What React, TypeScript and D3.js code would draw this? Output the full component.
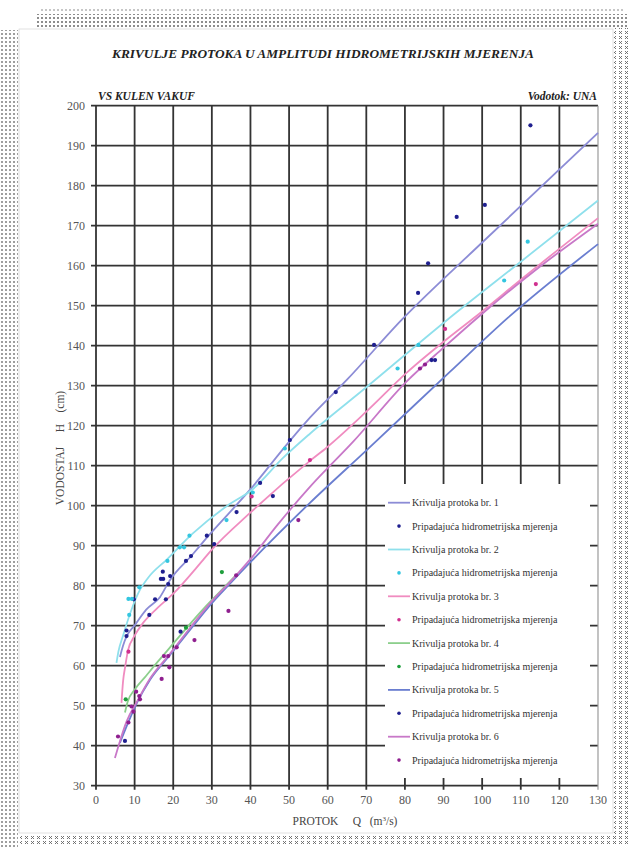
import React from "react";
import * as d3 from "d3";

// rating curves Q (m3/s) -> H (cm)
const curve1: [number, number][] = [
  [6.2, 62.2], [7, 65], [8, 67.5], [10.1, 70.2], [13, 74], [16.6, 77.2], [19, 81.2],
  [25, 87.8], [28.7, 92], [39.9, 104], [50.2, 116.2], [55.4, 122], [65, 131.5],
  [79.2, 146.5], [100, 165.8], [130, 193.2],
];
const curve2: [number, number][] = [
  [5.3, 60.7], [5.8, 63.5], [7, 67.5], [9, 73.5], [11.4, 79], [13.5, 82], [18.4, 86.6],
  [25, 93], [34, 100], [40.4, 104], [48.5, 112], [55.4, 118], [70, 129.6], [91, 146.5],
  [110, 161], [130, 176.3],
];
const curve3: [number, number][] = [
  [6.6, 50.7], [7, 56], [7.6, 60], [8.3, 63.9], [10, 67.5], [12.2, 70.7], [16, 74.5],
  [20, 78], [27.7, 86.4], [30, 89], [39.9, 98.2], [55.4, 111.2], [59.7, 114.5],
  [70, 123.5], [80.4, 133.2], [91.7, 142.3], [98.6, 147.5], [110, 156.5], [130, 171.9],
];
const curve4: [number, number][] = [
  [7.5, 48.3], [8.2, 51], [10, 54], [13, 57.5], [16, 61], [20, 65.5], [23.6, 69.6],
  [28, 74.4], [32, 78.4], [36, 82.4],
];
const curve5: [number, number][] = [
  [6.2, 40.7], [8, 45], [10.6, 50.7], [14, 56.5], [19, 62.5], [24.8, 69.5], [29.9, 75.5],
  [34.7, 80.5], [40.3, 86.2], [55.4, 100.7], [70.1, 113.9], [91.7, 133.5], [106.7, 147],
  [130, 165.4],
];
const curve6: [number, number][] = [
  [4.9, 36.9], [6, 40.5], [7.9, 46], [10.6, 51], [14, 56.8], [19, 62.8], [24.8, 70],
  [29.9, 76], [35, 81.2], [40.3, 87], [47, 95.2], [55.4, 104.7], [66.6, 116], [80.4, 131],
  [90, 139.5], [100, 148], [115, 159.8], [130, 170.5],
];

// measured points
const points1: [number, number][] = [
  [7.9, 68.8], [7.9, 67.4], [9.8, 76.6], [13.8, 72.7], [15.3, 76.6], [17.3, 83.5],
  [17.4, 81.7], [16.8, 81.7], [19.2, 82.4], [18.7, 80.4], [18.1, 76.6], [23.3, 86.2],
  [24.6, 87.4], [28.7, 92.5], [30.6, 90.4], [36.4, 98.4], [42.5, 105.7], [45.8, 102.4],
  [50.2, 116.4], [62.1, 128.4], [72, 140.2], [83.4, 153.2], [86, 160.6], [93.4, 172.2],
  [100.7, 175.2], [112.5, 195.1],
];
const points2: [number, number][] = [
  [8.6, 72.7], [8.4, 76.7], [9.3, 76.7], [11.2, 79.6], [18.5, 86.2], [21.7, 89.6],
  [22.8, 89.6], [24.2, 92.5], [33.8, 96.4], [40.6, 103.3], [48.9, 114.3], [78.1, 134.3],
  [83.5, 140.2], [105.7, 156.3], [111.8, 166],
];
const points3: [number, number][] = [
  [8.4, 63.5], [40.3, 102.3], [55.4, 111.4], [90.4, 144.2], [113.9, 155.4],
];
const points4: [number, number][] = [[7.7, 51.6], [23.3, 69.5], [32.6, 83.4]];
const points5: [number, number][] = [
  [7.5, 41.2], [21.9, 68.5], [86.9, 136.4], [87.8, 136.4],
];
const points6: [number, number][] = [
  [5.7, 42.3], [8.4, 45.8], [9.2, 49.8], [9.7, 48.5], [10.4, 53.5], [11.2, 52.4],
  [11.4, 51.6], [17, 56.7], [17.6, 62.4], [18.7, 62.4], [19, 59.6], [20.9, 64.6],
  [25.5, 66.4], [34.3, 73.7], [36.3, 82.6], [52.4, 96.4], [83.9, 134.3], [85.2, 135.3],
];

const xTicks = d3.range(0, 131, 10);
const yTicks = d3.range(30, 201, 10);

const curveLabels = [
  "Krivulja protoka br. 1",
  "Krivulja protoka br. 2",
  "Krivulja protoka br. 3",
  "Krivulja protoka br. 4",
  "Krivulja protoka br. 5",
  "Krivulja protoka br. 6",
];
const pointsLabel = "Pripadajuća hidrometrijska mjerenja";

const lineColors = ["#8c8cd6", "#8fe0ec", "#f08cc0", "#8ccf8c", "#6a7ed0", "#c878c8"];
const dotColors = ["#1f1f8f", "#33c6e0", "#d0308f", "#1e9e3c", "#1f1f8f", "#8f1f8f"];

const curves = [curve1, curve2, curve3, curve4, curve5, curve6];
const pointSets = [points1, points2, points3, points4, points5, points6];

const W = 638;
const H = 849;

export default function App() {
  const x = d3.scaleLinear().domain([0, 130]).range([96, 598]);
  const y = d3.scaleLinear().domain([30, 200]).range([785.7, 105.7]);

  const line = d3
    .line<[number, number]>()
    .x((d) => x(d[0]))
    .y((d) => y(d[1]))
    .curve(d3.curveMonotoneX);

  const legend = { x: 385, y: 484, w: 205, h: 294 };
  const rowY = (i: number) => 502.7 + i * 23.4;

  return (
    <svg
      width={W}
      height={H}
      style={{
        position: "absolute",
        left: 0,
        top: 0,
        background: "#fff",
        fontFamily: "Liberation Serif, DejaVu Serif, serif",
      }}
    >
      <defs>
        <pattern id="dots" width="4" height="4" patternUnits="userSpaceOnUse">
          <circle cx="2" cy="2" r="1" fill="#666" />
        </pattern>
        <pattern id="xs" width="6" height="5" patternUnits="userSpaceOnUse">
          <path d="M1,1 L4,4 M4,1 L1,4" stroke="#666" strokeWidth="0.9" />
        </pattern>
      </defs>

      {/* page frame */}
      <rect x={40} y={8} width={585} height={4} fill="url(#dots)" opacity={0.5} />
      <rect x={36} y={14} width={592} height={15} fill="url(#dots)" />
      <rect x={0} y={30} width={18} height={819} fill="url(#dots)" opacity={0.85} />
      <rect x={614} y={28} width={16} height={816} fill="url(#xs)" />
      <rect x={20} y={834} width={596} height={10} fill="url(#xs)" />
      <rect x={19} y={29} width={594} height={804} fill="#fff" stroke="#ccc" strokeWidth={0.6} />

      {/* titles */}
      <text
        x={323}
        y={58}
        textAnchor="middle"
        fontSize={13}
        fontWeight="bold"
        fontStyle="italic"
        fill="#222"
        textLength={422}
        lengthAdjust="spacingAndGlyphs"
      >
        KRIVULJE PROTOKA U AMPLITUDI HIDROMETRIJSKIH MJERENJA
      </text>
      <text x={98} y={100} fontSize={11.5} fontWeight="bold" fontStyle="italic" fill="#222">
        VS KULEN VAKUF
      </text>
      <text
        x={597}
        y={100}
        textAnchor="end"
        fontSize={11.5}
        fontWeight="bold"
        fontStyle="italic"
        fill="#222"
      >
        Vodotok: UNA
      </text>

      {/* grid */}
      {yTicks.map((t) => (
        <line
          key={"h" + t}
          x1={x(0) - 5}
          x2={x(130)}
          y1={y(t)}
          y2={y(t)}
          stroke="#333"
          strokeWidth={1.8}
        />
      ))}
      {xTicks.map((t) => (
        <line
          key={"v" + t}
          x1={x(t)}
          x2={x(t)}
          y1={y(200)}
          y2={y(30) + 4}
          stroke={t === 130 ? "#9a9a9a" : "#333"}
          strokeWidth={t === 130 ? 1.2 : 1.8}
        />
      ))}

      {/* tick labels */}
      {yTicks.map((t) => (
        <text key={"yl" + t} x={85} y={y(t) + 4} textAnchor="end" fontSize={12} fill="#555">
          {t}
        </text>
      ))}
      {xTicks.map((t) => (
        <text key={"xl" + t} x={x(t)} y={804} textAnchor="middle" fontSize={12} fill="#555">
          {t}
        </text>
      ))}

      {/* axis titles */}
      <text
        transform={`translate(64,448) rotate(-90)`}
        textAnchor="middle"
        fontSize={11.5}
        fill="#444"
        style={{ whiteSpace: "pre" }}
      >
        {"VODOSTAJ     H    (cm)"}
      </text>
      <text x={345} y={825} textAnchor="middle" fontSize={11.5} fill="#444" style={{ whiteSpace: "pre" }}>
        {"PROTOK     Q   (m"}
        <tspan fontSize={7} dy={-4}>3</tspan>
        <tspan dy={4}>/s)</tspan>
      </text>

      {/* curves */}
      {curves.map((c, i) => (
        <path key={"c" + i} d={line(c) || ""} fill="none" stroke={lineColors[i]} strokeWidth={1.8} />
      ))}

      {/* measured points */}
      {pointSets.map((ps, i) =>
        ps.map((p, j) => (
          <circle key={`p${i}-${j}`} cx={x(p[0])} cy={y(p[1])} r={2.1} fill={dotColors[i]} />
        ))
      )}

      {/* legend */}
      <rect x={legend.x} y={legend.y} width={legend.w} height={legend.h} fill="#fff" />
      {curveLabels.map((lab, i) => (
        <g key={"lg" + i}>
          <line
            x1={388}
            x2={410}
            y1={rowY(i * 2)}
            y2={rowY(i * 2)}
            stroke={lineColors[i]}
            strokeWidth={1.8}
          />
          <text x={412} y={rowY(i * 2) + 3.5} fontSize={10} fill="#333">
            {lab}
          </text>
          <circle cx={399} cy={rowY(i * 2 + 1)} r={1.8} fill={dotColors[i]} />
          <text x={412} y={rowY(i * 2 + 1) + 3.5} fontSize={10} fill="#333">
            {pointsLabel}
          </text>
        </g>
      ))}
    </svg>
  );
}
